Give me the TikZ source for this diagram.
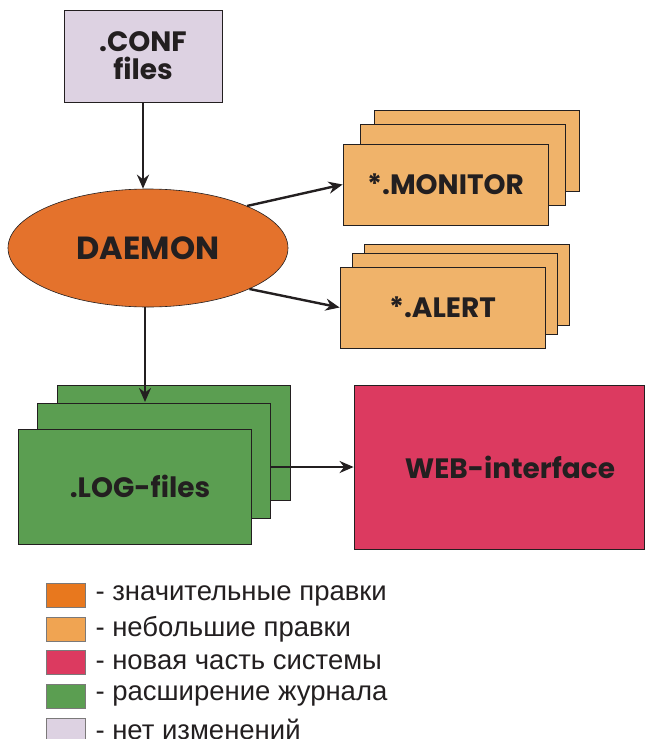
\documentclass[tikz,border=0pt]{standalone}
\usepackage{fontspec}
\setmainfont{Liberation Sans}
\newfontfamily\boxfont{Poppins}
\usetikzlibrary{arrows.meta,positioning,shapes.geometric}
\definecolor{ConfLilac}{HTML}{DDD2E2}
\definecolor{DaemonOrange}{HTML}{E4722C}
\definecolor{MajorOrange}{HTML}{E8781E}
\definecolor{MinorOrange}{HTML}{F0B36A}
\definecolor{MinorLegend}{HTML}{F0A452}
\definecolor{WebRed}{HTML}{DC3A60}
\definecolor{LogGreen}{HTML}{5B9E51}
\definecolor{InkDark}{HTML}{231F20}

\begin{document}
\begin{tikzpicture}[
  x=1pt,y=-1pt,
  node distance=9pt and 10pt,
  box/.style={rectangle,draw=InkDark,line width=0.8pt,inner sep=0pt,text=InkDark,font=\boxfont\bfseries\fontsize{28}{32}\selectfont},
  conf/.style={box,fill=ConfLilac,minimum width=158pt,minimum height=92pt,align=center,font=\boxfont\bfseries\fontsize{28}{31}\selectfont},
  minor/.style={box,fill=MinorOrange,minimum width=205pt,minimum height=81pt},
  logbox/.style={box,fill=LogGreen,minimum width=233pt,minimum height=115pt},
  legsq/.style={rectangle,draw=InkDark!60,line width=0.6pt,minimum width=39pt,minimum height=24pt,inner sep=0pt},
  legtext/.style={inner sep=0pt,anchor=west,text=InkDark,font=\fontsize{27.5}{30}\selectfont},
  arrow/.style={-{Stealth[length=14pt,width=12pt]},line width=2.4pt,color=InkDark}
]
\useasboundingbox (0,0) rectangle (646,739);

% config files
\node[conf] (conf) at (143,56) {.CONF\\[-3pt]files};

% daemon
\node[ellipse,draw=InkDark,line width=0.6pt,fill=DaemonOrange,minimum width=280pt,minimum height=118pt,inner sep=0pt,
  text=InkDark,font=\boxfont\bfseries\fontsize{32}{36}\selectfont] (daemon) at (148,248) {DAEMON};

% monitor stack
\node[minor] (monback) at (476.5,151) {};
\node[minor] (monmid) at (462.5,164.5) {};
\node[minor] (mon) at (445.5,184.5) {*.MONITOR};

% alert stack
\node[minor] (alback) at (466.5,284.5) {};
\node[minor] (almid) at (454.5,294) {};
\node[minor] (alert) at (442.5,307.5) {*.ALERT};

% log stack
\node[logbox] (logback) at (173.5,442.5) {};
\node[logbox] (logmid) at (153.5,461) {};
\node[logbox] (log) at (134.5,486.5) {\hspace{11pt}.LOG-files};

% web
\node[box,fill=WebRed,minimum width=290pt,minimum height=164pt] (web) at (499,467) {\hspace{22pt}WEB-interface};

\coordinate (logtip) at (145,402);

\draw[arrow] (conf.south) -- (conf.south |- daemon.north);
\draw[arrow] (daemon.23) -- (mon.west);
\draw[arrow] (daemon.-22) -- (alert.west);
\draw[arrow] (daemon.south -| logtip) -- (logtip);
\draw[arrow] (logmid.east |- web.west) -- (web.west);

% legend
\node[legsq,fill=MajorOrange] (leg1) at (65.5,595.5) {};
\node[legsq,fill=MinorLegend,below=of leg1] (leg2) {};
\node[legsq,fill=WebRed,below=of leg2] (leg3) {};
\node[legsq,fill=LogGreen,below=of leg3] (leg4) {};
\node[legsq,fill=ConfLilac,below=of leg4] (leg5) {};
\node[legtext,right=of leg1] (txt1) {- значительные правки};
\node[legtext,right=of leg2] (txt2) {- небольшие правки};
\node[legtext,right=of leg3] (txt3) {- новая часть системы};
\node[legtext,right=of leg4] (txt4) {- расширение журнала};
\node[legtext,right=of leg5] (txt5) {- нет изменений};
\end{tikzpicture}
\end{document}
